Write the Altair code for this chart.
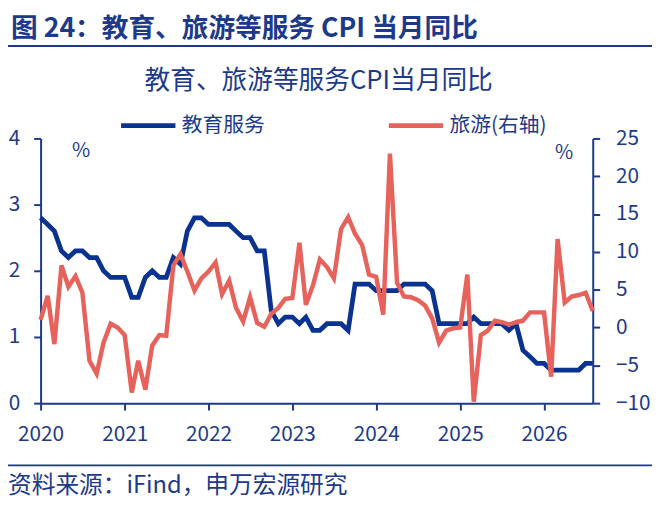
import altair as alt
import pandas as pd

# monthly observations, Jan 2020 .. Aug 2026
months = pd.date_range("2020-01-01", periods=80, freq="MS").strftime("%Y-%m-%d").tolist()

education = [2.8, 2.7, 2.6, 2.3, 2.2, 2.3, 2.3, 2.2, 2.2, 2.0,
             1.9, 1.9, 1.9, 1.6, 1.6, 1.9, 2.0, 1.9, 1.9, 2.2,
             2.1, 2.6, 2.8, 2.8, 2.7, 2.7, 2.7, 2.7, 2.6, 2.5,
             2.5, 2.3, 2.3, 1.4, 1.2, 1.3, 1.3, 1.2, 1.3, 1.1,
             1.1, 1.2, 1.2, 1.2, 1.1, 1.8, 1.8, 1.8, 1.7, 1.7,
             1.7, 1.7, 1.8, 1.8, 1.8, 1.8, 1.7, 1.2, 1.2, 1.2,
             1.2, 1.2, 1.3, 1.2, 1.2, 1.2, 1.2, 1.1, 1.2, 0.8,
             0.7, 0.6, 0.6, 0.5, 0.5, 0.5, 0.5, 0.5, 0.6, 0.6]

travel = [1.0, 4.2, -2.2, 8.2, 5.4, 6.8, 4.6, -4.4, -6.1, -2.0,
          0.5, 0.0, -1.0, -8.6, -4.4, -8.2, -2.4, -1.0, -1.1, 8.2,
          9.7, 7.4, 4.9, 6.5, 7.4, 8.6, 4.4, 6.2, 2.6, 0.8,
          4.0, 0.6, 0.1, 1.8, 2.6, 3.8, 3.9, 11.2, 3.0, 5.6,
          9.0, 8.0, 6.5, 13.0, 14.6, 12.4, 10.9, 7.0, 6.7, 1.7,
          23.0, 5.9, 4.1, 4.0, 3.6, 2.9, 1.2, -2.0, -0.4, -0.1,
          0.0, 7.0, -9.8, -1.0, -0.4, 0.9, 0.7, 0.4, 0.7, 0.9,
          2.0, 2.0, 2.0, -6.5, 11.7, 3.3, 4.1, 4.3, 4.6, 2.2]

series_names = ["教育服务", "旅游(右轴)"]
years = [2020, 2021, 2022, 2023, 2024, 2025, 2026]
left_ticks = [0, 1, 2, 3, 4]
right_ticks = [-10, -5, 0, 5, 10, 15, 20, 25]

header = "图 24：教育、旅游等服务 CPI 当月同比"
chart_title = "教育、旅游等服务CPI当月同比"
source_note = "资料来源：iFind，申万宏源研究"

BLUE = "#0a3290"
RED = "#e8625c"
NAVY = "#1d3a8a"
FONT = "Noto Sans CJK SC"

df = pd.DataFrame({"date": months, "edu": education, "travel": travel})

x_enc = alt.X(
    "date:T",
    scale=alt.Scale(type="utc",
                    domain=[alt.DateTime(year=2020, month=1, date=1, utc=True),
                            alt.DateTime(year=2026, month=8, date=1, utc=True)]),
    axis=alt.Axis(values=[alt.DateTime(year=y, month=1, date=1, utc=True) for y in years],
                  format="%Y", formatType="utc", title=None, grid=False,
                  labelFlush=False, labelBaseline="middle", labelPadding=25),
)

color_scale = alt.Scale(domain=series_names, range=[BLUE, RED])

edu_line = alt.Chart(df).transform_calculate(
    series=f"'{series_names[0]}'"
).mark_line(strokeWidth=4.8).encode(
    x=x_enc,
    y=alt.Y("edu:Q", scale=alt.Scale(domain=[0, 4], nice=False),
            axis=alt.Axis(orient="left", values=left_ticks, title=None, grid=False,
                          labelPadding=14)),
    color=alt.Color(
        "series:N", scale=color_scale,
        legend=alt.Legend(title=None, orient="none", legendX=79, legendY=-43,
                          direction="horizontal", symbolType="stroke",
                          symbolSize=3025, symbolStrokeWidth=5,
                          labelFontSize=21, labelFont=FONT, labelColor=NAVY,
                          labelOffset=4, columnPadding=115, padding=0),
    ),
)

travel_line = alt.Chart(df).transform_calculate(
    series=f"'{series_names[1]}'"
).mark_line(strokeWidth=4.5).encode(
    x=x_enc,
    y=alt.Y("travel:Q", scale=alt.Scale(domain=[-10, 25], nice=False),
            axis=alt.Axis(orient="right", values=right_ticks, title=None, grid=False,
                          labelPadding=16)),
    color=alt.Color("series:N", scale=color_scale),
)


def label(text, x, y, size, weight="normal", align="left"):
    return alt.Chart(pd.DataFrame({"k": [0]})).mark_text(
        text=text, font=FONT, fontSize=size, fontWeight=weight,
        color=NAVY, align=align, baseline="middle",
    ).encode(x=alt.value(x), y=alt.value(y))


def hline(y):
    return alt.Chart(pd.DataFrame({"k": [0]})).mark_rule(
        color=NAVY, strokeWidth=2
    ).encode(x=alt.value(-33), x2=alt.value(619), y=alt.value(y))


chart = alt.layer(
    edu_line,
    travel_line,
    label(header, -30, -111, 27, weight="bold"),
    hline(-93.5),
    label(chart_title, 281.5, -58, 26, align="center"),
    label("%", 41, 13, 20, align="center"),
    label("%", 530, 15, 20, align="center"),
    hline(331),
    label(source_note, -33, 352, 24),
).resolve_scale(
    y="independent"
).properties(
    width=559,
    height=268,
    autosize=alt.AutoSizeParams(type="none"),
    padding={"left": 33, "top": 129, "right": 60, "bottom": 96},
).configure_axis(
    domainColor=NAVY, domainWidth=2, tickColor=NAVY, tickWidth=2, tickSize=7,
    labelColor=NAVY, labelFont=FONT, labelFontSize=21,
).configure_view(strokeWidth=0)

chart.save("out.html", embed_options={"renderer": "svg", "actions": False})
